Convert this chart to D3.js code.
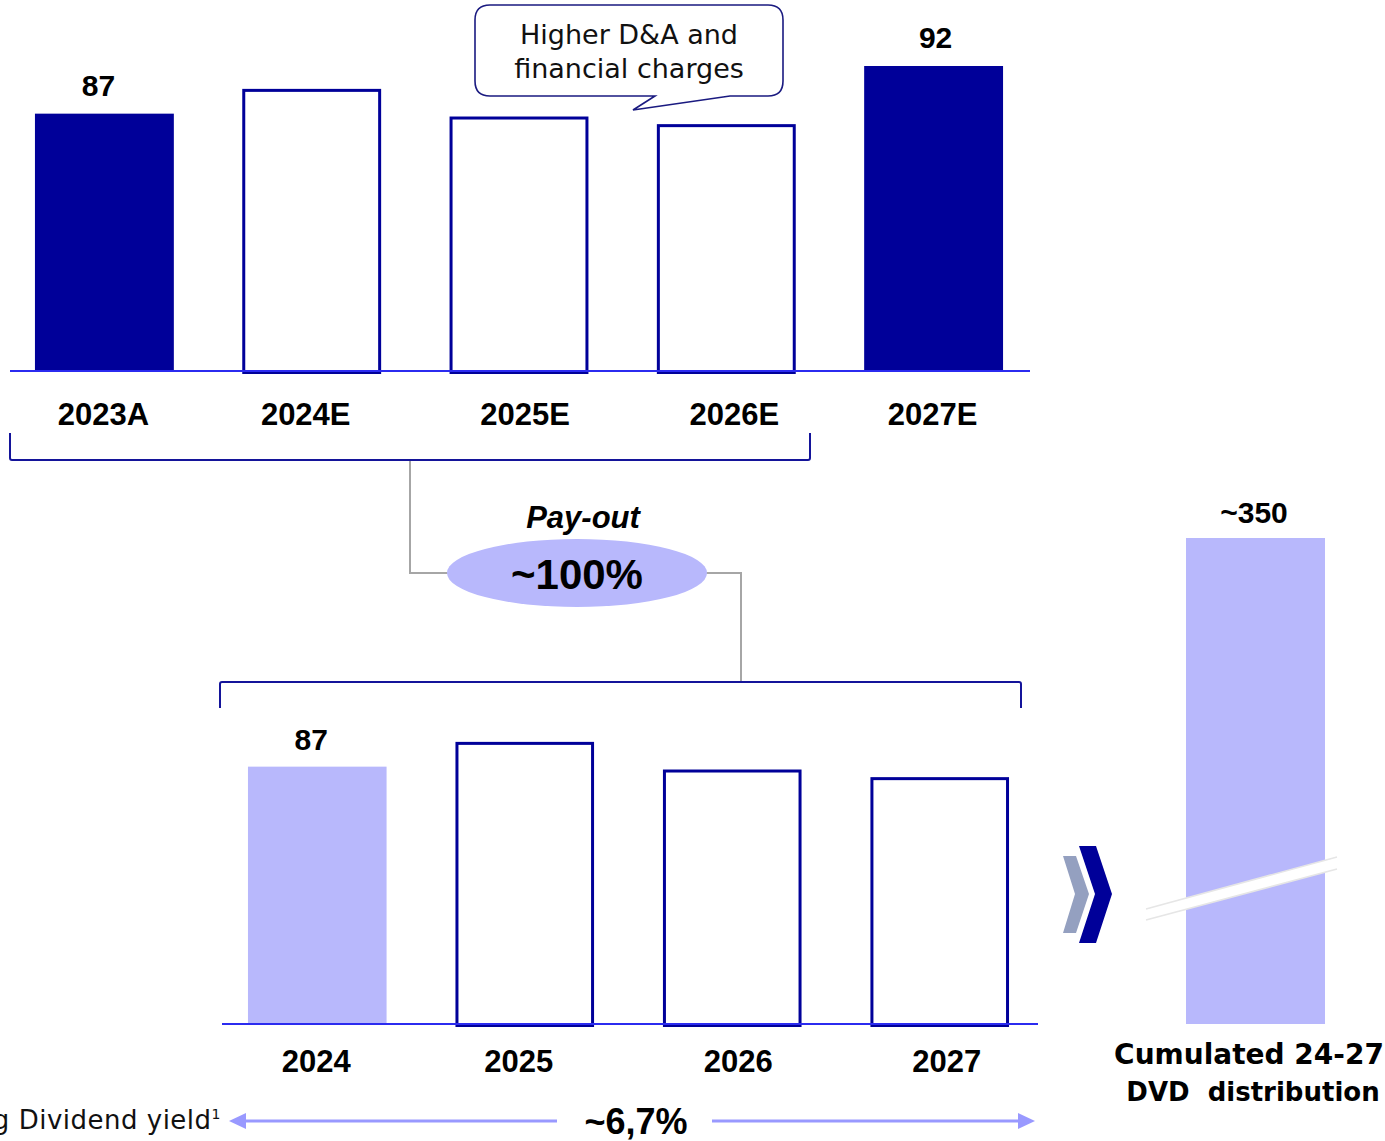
<!DOCTYPE html>
<html>
<head>
<meta charset="utf-8">
<script src="https://cdn.jsdelivr.net/npm/d3@7"></script>
<style>
  html, body { margin: 0; padding: 0; background: #fff; overflow: hidden; }
  svg { display: block; }
</style>
</head>
<body>
<svg id="chart" width="1385" height="1141"></svg>
<script>
// Net income (top) and dividends (bottom), EUR m
const incomeYears = ["2023A", "2024E", "2025E", "2026E", "2027E"];
const incomeValues = [87, 89.6, 86.7, 85.9, 92];
const incomeFilled = [true, false, false, false, true];
const incomeLabels = ["87", null, null, null, "92"];

const dividendYears = ["2024", "2025", "2026", "2027"];
const dividendValues = [87, 89.6, 86.7, 85.9];
const dividendLabels = ["87", null, null, null];

const cumulatedValue = 350;
const cumulatedLabel = "~350";
const payoutLabel = "~100%";
const yieldLabel = "~6,7%";

const NAVY = "#000099";
const LAVENDER = "#b8b8fc";
const AXIS_BLUE = "#2b2bf0";
const BRACKET = "#14149a";
const GREY = "#a6a6a6";
const ARROW = "#9999ff";
const GOTHIC = "'DejaVu Sans', sans-serif";
const ARIAL = "'Liberation Sans', Arial, sans-serif";

// small horizontal nudges of the category labels (px)
const topTickShift = [-1, -6, 6, 8, -1];
const botTickShift = [-1, -6, 6, 7];

const svg = d3.select("#chart");

// ---------- Top chart: net income ----------
const xTop = d3.scaleBand().domain(incomeYears).range([8, 1030])
  .paddingInner(0.33).paddingOuter(0.13);
const yTop = d3.scaleLinear().domain([60, 92]).range([371, 66]);

const gIncome = svg.append("g");
incomeYears.forEach((yr, i) => {
  const x = xTop(yr), w = xTop.bandwidth();
  const y = yTop(incomeValues[i]);
  if (incomeFilled[i]) {
    gIncome.append("rect").attr("x", x).attr("y", y).attr("width", w)
      .attr("height", yTop.range()[0] - y).attr("fill", NAVY);
  } else {
    gIncome.append("rect").attr("x", x + 1.5).attr("y", y + 1.5).attr("width", w - 3)
      .attr("height", yTop.range()[0] - y).attr("fill", "#fff")
      .attr("stroke", NAVY).attr("stroke-width", 3);
  }
  if (incomeLabels[i]) {
    gIncome.append("text").attr("x", x + w / 2 + (i === 0 ? -6 : 2)).attr("y", y - 18)
      .attr("text-anchor", "middle").attr("font-family", ARIAL)
      .attr("font-weight", "bold").attr("font-size", 30).attr("fill", "#000")
      .text(incomeLabels[i]);
  }
});
const topAxis = d3.axisBottom(xTop).tickSize(0).tickPadding(0);
const gTopAxis = svg.append("g").attr("transform", "translate(0,371)").call(topAxis);
gTopAxis.select(".domain").remove();
gTopAxis.selectAll("text").attr("y", 54).attr("dy", 0)
  .attr("x", (d, i) => topTickShift[i])
  .attr("font-family", ARIAL).attr("font-weight", "bold")
  .attr("font-size", 31).attr("fill", "#000");
svg.append("line").attr("x1", 10).attr("x2", 1030).attr("y1", 371).attr("y2", 371)
  .attr("stroke", AXIS_BLUE).attr("stroke-width", 2);

// Callout bubble
svg.append("path")
  .attr("d", "M490,5 H768 Q783,5 783,20 V81 Q783,96 768,96 H730 L633,110 L655,96 H490 Q475,96 475,81 V20 Q475,5 490,5 Z")
  .attr("fill", "#fff").attr("stroke", "#1a1a80").attr("stroke-width", 1.6);
const callout = svg.append("text").attr("text-anchor", "middle")
  .attr("font-family", GOTHIC).attr("font-size", 27).attr("fill", "#111");
callout.append("tspan").attr("x", 629).attr("y", 44).text("Higher D&A and");
callout.append("tspan").attr("x", 629).attr("y", 78).text("financial charges");

// ---------- Brackets and pay-out link ----------
svg.append("path").attr("d", "M10,433 V458 Q10,460 12,460 H808 Q810,460 810,458 V433")
  .attr("fill", "none").attr("stroke", BRACKET).attr("stroke-width", 2);
svg.append("path").attr("d", "M220,708 V684 Q220,682 222,682 H1019 Q1021,682 1021,684 V708")
  .attr("fill", "none").attr("stroke", BRACKET).attr("stroke-width", 2);
svg.append("path").attr("d", "M410,461 V573 H450").attr("fill", "none")
  .attr("stroke", GREY).attr("stroke-width", 2);
svg.append("path").attr("d", "M704,573 H741 V681").attr("fill", "none")
  .attr("stroke", GREY).attr("stroke-width", 2);
svg.append("ellipse").attr("cx", 577).attr("cy", 573).attr("rx", 130).attr("ry", 34)
  .attr("fill", LAVENDER);
svg.append("text").attr("x", 583).attr("y", 528).attr("text-anchor", "middle")
  .attr("font-family", ARIAL).attr("font-weight", "bold").attr("font-style", "italic")
  .attr("font-size", 31).attr("fill", "#000").text("Pay-out");
svg.append("text").attr("x", 577).attr("y", 589).attr("text-anchor", "middle")
  .attr("font-family", ARIAL).attr("font-weight", "bold")
  .attr("font-size", 42).attr("fill", "#000").text(payoutLabel);

// ---------- Bottom chart: dividends ----------
const xBot = d3.scaleBand().domain(dividendYears).range([221, 1036])
  .paddingInner(0.332).paddingOuter(0.13);
const yBot = d3.scaleLinear().domain([60, 92]).range([1024, 719]);

const gDividend = svg.append("g");
dividendYears.forEach((yr, i) => {
  const x = xBot(yr), w = xBot.bandwidth();
  const y = yBot(dividendValues[i]);
  if (i === 0) {
    gDividend.append("rect").attr("x", x).attr("y", y).attr("width", w)
      .attr("height", yBot.range()[0] - y).attr("fill", LAVENDER);
  } else {
    gDividend.append("rect").attr("x", x + 1.5).attr("y", y + 1.5).attr("width", w - 3)
      .attr("height", yBot.range()[0] - y).attr("fill", "#fff")
      .attr("stroke", NAVY).attr("stroke-width", 3);
  }
  if (dividendLabels[i]) {
    gDividend.append("text").attr("x", x + w / 2 - 6).attr("y", y - 17)
      .attr("text-anchor", "middle").attr("font-family", ARIAL)
      .attr("font-weight", "bold").attr("font-size", 30).attr("fill", "#000")
      .text(dividendLabels[i]);
  }
});
const botAxis = d3.axisBottom(xBot).tickSize(0).tickPadding(0);
const gBotAxis = svg.append("g").attr("transform", "translate(0,1024)").call(botAxis);
gBotAxis.select(".domain").remove();
gBotAxis.selectAll("text").attr("y", 48).attr("dy", 0)
  .attr("x", (d, i) => botTickShift[i])
  .attr("font-family", ARIAL).attr("font-weight", "bold")
  .attr("font-size", 31).attr("fill", "#000");
svg.append("line").attr("x1", 222).attr("x2", 1038).attr("y1", 1024).attr("y2", 1024)
  .attr("stroke", AXIS_BLUE).attr("stroke-width", 2);

// ---------- Cumulated distribution (broken bar) ----------
const yCum = d3.scaleLinear().domain([0, cumulatedValue]).range([1024, 538]);
svg.append("rect").attr("x", 1186).attr("y", yCum(cumulatedValue)).attr("width", 139)
  .attr("height", yCum(0) - yCum(cumulatedValue)).attr("fill", LAVENDER);
svg.append("text").attr("x", 1254).attr("y", yCum(cumulatedValue) - 15)
  .attr("text-anchor", "middle").attr("font-family", ARIAL).attr("font-weight", "bold")
  .attr("font-size", 30).attr("fill", "#000").text(cumulatedLabel);
// axis break
svg.append("polygon").attr("points", "1146,909 1337,857 1337,869 1146,920").attr("fill", "#fff");
svg.append("line").attr("x1", 1146).attr("y1", 909).attr("x2", 1337).attr("y2", 857)
  .attr("stroke", "#e6e6e6").attr("stroke-width", 1.6);
svg.append("line").attr("x1", 1146).attr("y1", 920).attr("x2", 1337).attr("y2", 869)
  .attr("stroke", "#e6e6e6").attr("stroke-width", 1.6);

const cumText = svg.append("text").attr("text-anchor", "middle")
  .attr("font-family", GOTHIC).attr("font-weight", "bold").attr("fill", "#000");
cumText.append("tspan").attr("x", 1249).attr("y", 1064).attr("font-size", 28)
  .text("Cumulated 24-27");
cumText.append("tspan").attr("x", 1253).attr("y", 1101).attr("font-size", 26)
  .text("DVD\u00a0 distribution");

// Chevrons
svg.append("polygon").attr("points", "1063,856 1076,856 1089,894 1076,933 1063,933 1075,894")
  .attr("fill", "#94a0c0");
svg.append("polygon").attr("points", "1079,846 1096,846 1112,894 1096,943 1079,943 1095,894")
  .attr("fill", NAVY);

// ---------- Dividend yield row ----------
const yieldText = svg.append("text").attr("x", 221).attr("y", 1129)
  .attr("text-anchor", "end").attr("font-family", GOTHIC)
  .attr("font-size", 26).attr("letter-spacing", 0.5).attr("fill", "#111");
yieldText.append("tspan").text("Avg Dividend yield");
yieldText.append("tspan").attr("font-size", 14).attr("dy", -10).text("1");

svg.append("line").attr("x1", 557).attr("x2", 243).attr("y1", 1121).attr("y2", 1121)
  .attr("stroke", ARROW).attr("stroke-width", 3);
svg.append("polygon").attr("points", "229,1121 246,1113 246,1129").attr("fill", ARROW);
svg.append("line").attr("x1", 712).attr("x2", 1021).attr("y1", 1121).attr("y2", 1121)
  .attr("stroke", ARROW).attr("stroke-width", 3);
svg.append("polygon").attr("points", "1035,1121 1018,1113 1018,1129").attr("fill", ARROW);
svg.append("text").attr("x", 636).attr("y", 1134).attr("text-anchor", "middle")
  .attr("font-family", ARIAL).attr("font-weight", "bold")
  .attr("font-size", 36).attr("fill", "#000").text(yieldLabel);
</script>
</body>
</html>
